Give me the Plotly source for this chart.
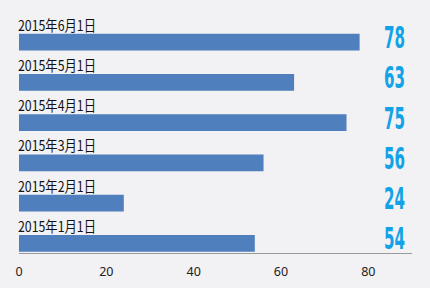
import plotly.graph_objects as go

categories = ["2015年1月1日", "2015年2月1日", "2015年3月1日", "2015年4月1日", "2015年5月1日", "2015年6月1日"]
values = [54, 24, 56, 75, 63, 78]
tick_values = [0, 20, 40, 60, 80]

ypos = list(range(len(categories)))

fig = go.Figure()
fig.add_trace(go.Bar(
    x=values, y=ypos, orientation="h",
    marker=dict(color="#4F7FBC", line=dict(width=0)),
    width=0.42, hoverinfo="skip",
))

annotations = []
for i, (c, v) in enumerate(zip(categories, values)):
    annotations.append(dict(
        x=0, y=i, xref="x", yref="y", text=c, showarrow=False,
        xanchor="left", yanchor="middle", yshift=18, xshift=-3,
        font=dict(family="Noto Sans CJK SC, sans-serif", size=14.5, color="#111111"),
    ))
    annotations.append(dict(
        x=86.1, y=i, xref="x", yref="y", text=str(v), showarrow=False,
        xanchor="center", yanchor="middle", yshift=5,
        font=dict(family="DejaVu Sans Condensed, DejaVu Sans, sans-serif",
                  size=31, color="#12A3E6", weight="bold"),
    ))

fig.update_layout(
    width=430, height=288,
    margin=dict(l=19, r=18, t=20, b=35, autoexpand=False),
    paper_bgcolor="#F2F1F4", plot_bgcolor="#F2F1F4",
    showlegend=False,
    annotations=annotations,
    xaxis=dict(range=[0, 90], tickvals=tick_values, showgrid=False, zeroline=False,
               automargin=False,
               showline=True, linecolor="#9A9A9A", linewidth=1,
               ticks="outside", ticklen=7, tickcolor="rgba(0,0,0,0)",
               tickfont=dict(family="Noto Sans, sans-serif", size=12.5, color="#222222")),
    yaxis=dict(range=[-0.24, 5.55], showticklabels=False, showgrid=False,
               automargin=False,
               zeroline=False, showline=False, ticks=""),
)

post = """
var gd = document.getElementById('{plot_id}');
gd.querySelectorAll('text.annotation-text').forEach(function(t){
  var s = t.textContent.trim();
  if (/^\\d+$/.test(s)) {
    t.setAttribute('textLength', String(10.5 * s.length));
    t.setAttribute('lengthAdjust', 'spacingAndGlyphs');
  } else if (s.indexOf('2015') === 0) {
    var w = t.getComputedTextLength();
    var x = parseFloat(t.getAttribute('x') || '0');
    var anchor = t.getAttribute('text-anchor') || 'start';
    var left = anchor === 'middle' ? x - w / 2 : (anchor === 'end' ? x - w : x);
    var target = 78;
    t.setAttribute('text-anchor', 'start');
    t.setAttribute('x', String(left));
    t.setAttribute('textLength', String(target));
    t.setAttribute('lengthAdjust', 'spacingAndGlyphs');
  }
});
"""

fig.write_html("out.html", post_script=post)
